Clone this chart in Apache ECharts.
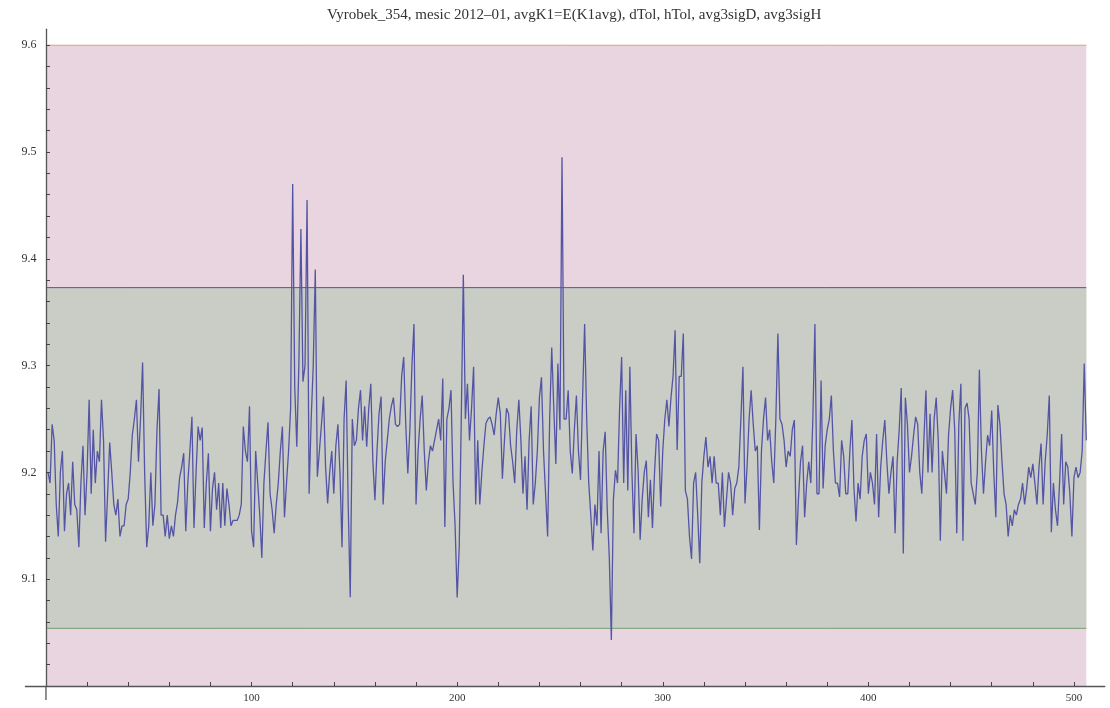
<!DOCTYPE html>
<html><head><meta charset="utf-8">
<script src="https://cdn.jsdelivr.net/npm/echarts@6/dist/echarts.min.js"></script>
<style>html,body{margin:0;padding:0;background:#fff}#c{width:1110px;height:708px}</style>
</head><body><div id="c"></div><script>
const titleText = 'Vyrobek_354, mesic 2012\u201301, avgK1=E(K1avg), dTol, hTol, avg3sigD, avg3sigH';
const values = [
9.20, 9.19, 9.245, 9.23, 9.17, 9.14, 9.20, 9.22, 9.145, 9.18,
9.19, 9.16, 9.21, 9.17, 9.165, 9.13, 9.19, 9.225, 9.16, 9.20,
9.268, 9.18, 9.24, 9.19, 9.22, 9.21, 9.268, 9.23, 9.135, 9.18,
9.228, 9.20, 9.17, 9.16, 9.175, 9.14, 9.15, 9.15, 9.17, 9.175,
9.20, 9.235, 9.25, 9.268, 9.21, 9.25, 9.303, 9.20, 9.13, 9.15,
9.20, 9.15, 9.17, 9.24, 9.278, 9.16, 9.16, 9.14, 9.16, 9.138,
9.15, 9.14, 9.16, 9.172, 9.195, 9.205, 9.218, 9.145, 9.19, 9.22,
9.252, 9.148, 9.20, 9.243, 9.23, 9.242, 9.148, 9.19, 9.218, 9.145,
9.185, 9.20, 9.165, 9.19, 9.148, 9.19, 9.15, 9.185, 9.17, 9.15,
9.155, 9.155, 9.155, 9.16, 9.17, 9.243, 9.22, 9.21, 9.262, 9.145,
9.13, 9.22, 9.19, 9.16, 9.12, 9.19, 9.22, 9.247, 9.18, 9.165,
9.143, 9.17, 9.19, 9.22, 9.243, 9.158, 9.19, 9.22, 9.26, 9.47,
9.28, 9.224, 9.30, 9.428, 9.285, 9.30, 9.455, 9.18, 9.25, 9.30,
9.39, 9.196, 9.22, 9.245, 9.271, 9.205, 9.171, 9.20, 9.22, 9.18,
9.225, 9.245, 9.20, 9.13, 9.25, 9.286, 9.17, 9.083, 9.25, 9.225,
9.23, 9.26, 9.277, 9.23, 9.262, 9.224, 9.26, 9.283, 9.21, 9.174,
9.22, 9.255, 9.271, 9.17, 9.21, 9.23, 9.25, 9.262, 9.27, 9.245,
9.243, 9.245, 9.29, 9.308, 9.245, 9.199, 9.24, 9.30, 9.339, 9.17,
9.22, 9.25, 9.272, 9.22, 9.183, 9.21, 9.225, 9.22, 9.23, 9.24,
9.25, 9.23, 9.288, 9.149, 9.25, 9.26, 9.277, 9.19, 9.15, 9.083,
9.13, 9.25, 9.385, 9.25, 9.283, 9.23, 9.26, 9.299, 9.17, 9.23,
9.17, 9.20, 9.225, 9.246, 9.25, 9.252, 9.245, 9.235, 9.255, 9.27,
9.255, 9.194, 9.23, 9.26, 9.255, 9.225, 9.21, 9.19, 9.24, 9.268,
9.23, 9.18, 9.215, 9.165, 9.23, 9.262, 9.17, 9.19, 9.22, 9.27,
9.289, 9.22, 9.18, 9.14, 9.25, 9.317, 9.26, 9.208, 9.302, 9.24,
9.495, 9.25, 9.25, 9.277, 9.22, 9.199, 9.24, 9.272, 9.22, 9.193,
9.27, 9.339, 9.25, 9.19, 9.16, 9.127, 9.17, 9.15, 9.22, 9.143,
9.22, 9.238, 9.165, 9.12, 9.043, 9.175, 9.202, 9.19, 9.26, 9.308,
9.19, 9.277, 9.183, 9.299, 9.20, 9.143, 9.236, 9.202, 9.137, 9.175,
9.20, 9.211, 9.158, 9.193, 9.148, 9.20, 9.236, 9.23, 9.168, 9.22,
9.25, 9.268, 9.243, 9.27, 9.29, 9.333, 9.221, 9.29, 9.29, 9.33,
9.183, 9.175, 9.14, 9.119, 9.19, 9.20, 9.16, 9.115, 9.19, 9.215,
9.233, 9.205, 9.215, 9.19, 9.215, 9.19, 9.19, 9.16, 9.20, 9.149,
9.175, 9.20, 9.19, 9.16, 9.185, 9.19, 9.205, 9.25, 9.299, 9.171,
9.205, 9.25, 9.277, 9.245, 9.22, 9.225, 9.146, 9.22, 9.25, 9.27,
9.23, 9.24, 9.21, 9.19, 9.25, 9.33, 9.25, 9.245, 9.23, 9.205,
9.22, 9.215, 9.24, 9.249, 9.132, 9.175, 9.21, 9.225, 9.158, 9.19,
9.21, 9.19, 9.25, 9.339, 9.18, 9.18, 9.286, 9.185, 9.225, 9.24,
9.25, 9.272, 9.22, 9.19, 9.19, 9.177, 9.23, 9.215, 9.18, 9.18,
9.22, 9.249, 9.185, 9.154, 9.19, 9.175, 9.215, 9.23, 9.236, 9.18,
9.20, 9.19, 9.17, 9.236, 9.158, 9.205, 9.23, 9.249, 9.21, 9.18,
9.20, 9.215, 9.143, 9.21, 9.24, 9.279, 9.124, 9.27, 9.245, 9.20,
9.215, 9.235, 9.252, 9.245, 9.20, 9.18, 9.23, 9.277, 9.20, 9.255,
9.20, 9.25, 9.27, 9.23, 9.136, 9.22, 9.20, 9.18, 9.235, 9.26,
9.277, 9.24, 9.143, 9.245, 9.283, 9.136, 9.26, 9.265, 9.25, 9.19,
9.18, 9.17, 9.20, 9.296, 9.22, 9.18, 9.21, 9.235, 9.225, 9.258,
9.20, 9.158, 9.263, 9.245, 9.21, 9.18, 9.17, 9.14, 9.16, 9.15,
9.165, 9.16, 9.17, 9.175, 9.19, 9.17, 9.185, 9.205, 9.195, 9.208,
9.19, 9.17, 9.205, 9.227, 9.17, 9.21, 9.235, 9.272, 9.144, 9.19,
9.165, 9.15, 9.19, 9.236, 9.17, 9.21, 9.205, 9.18, 9.14, 9.195,
9.205, 9.195, 9.20, 9.22, 9.302, 9.23
];
const xTickValues = [20,40,60,80,100,120,140,160,180,200,220,240,260,280,300,320,340,360,380,400,420,440,460,480,500];
const xLabelValues = [100,200,300,400,500];
const yTickValues = [9.02,9.04,9.06,9.08,9.1,9.12,9.14,9.16,9.18,9.2,9.22,9.24,9.26,9.28,9.3,9.32,9.34,9.36,9.38,9.4,9.42,9.44,9.46,9.48,9.5,9.52,9.54,9.56,9.58,9.6];
const yLabelValues = [9.1,9.2,9.3,9.4,9.5,9.6];
const hTol = 9.6;
const avg3sigH = 9.373;
const avg3sigD = 9.054;
const bandBottom = 9.0;
const xStart = 0;
const xEnd = 506;

const chart = echarts.init(document.getElementById('c'), null, {renderer: 'canvas'});
const serif = 'Liberation Serif, DejaVu Serif, serif';
const hline = (name, v, color) => ({
  name, type: 'line', data: [[xStart, v], [xEnd, v]], symbol: 'none', z: 3,
  lineStyle: {color, width: 1}, silent: true
});
chart.setOption({
  animation: false,
  backgroundColor: '#ffffff',
  title: {
    text: titleText, left: 322, top: 3,
    textStyle: {fontFamily: serif, fontSize: 15, fontWeight: 'normal', color: '#333'}
  },
  grid: {left: 25.4, right: 5.2, top: 29.2, bottom: 22, containLabel: false},
  xAxis: {
    type: 'value', min: -10, max: 515, z: 10,
    axisLine: {show: true, lineStyle: {color: '#555', width: 1.3}},
    axisTick: {show: true, inside: true, length: 4, customValues: xTickValues, lineStyle: {color: '#444', width: 1}},
    axisLabel: {customValues: xLabelValues, fontFamily: serif, fontSize: 11, color: '#333', margin: 7},
    splitLine: {show: false}
  },
  yAxis: {
    type: 'value', min: bandBottom, max: 9.615, z: 10,
    axisLine: {show: true, onZero: true, lineStyle: {color: '#555', width: 1.3}},
    axisTick: {show: true, inside: true, length: 4, customValues: yTickValues, lineStyle: {color: '#444', width: 1}},
    axisLabel: {customValues: yLabelValues, formatter: v => v.toFixed(1), fontFamily: serif, fontSize: 12, color: '#333', margin: -11},
    splitLine: {show: false}
  },
  series: [
    {
      name: 'bands', type: 'line', data: [], z: 1, silent: true,
      markArea: {
        silent: true,
        data: [
          [{xAxis: xStart, yAxis: bandBottom, itemStyle: {color: '#e8d5e0'}}, {xAxis: xEnd, yAxis: hTol}],
          [{xAxis: xStart, yAxis: avg3sigD, itemStyle: {color: '#c9cdc6'}}, {xAxis: xEnd, yAxis: avg3sigH}]
        ]
      }
    },
    hline('hTol', hTol, '#d2a870'),
    hline('avg3sigH', avg3sigH, '#55558e'),
    hline('avg3sigD', avg3sigD, '#74a074'),
    {
      name: 'avgK1', type: 'line', data: values.map((v, k) => [k + 1, v]),
      symbol: 'none', z: 5, lineStyle: {color: '#5454a4', width: 1.3}
    }
  ]
});
const p0 = chart.convertToPixel({gridIndex: 0}, [0, bandBottom]);
chart.setOption({graphic: [{type: 'line', z: 20, shape: {x1: p0[0], y1: p0[1], x2: p0[0], y2: p0[1] + 14}, style: {stroke: '#555', lineWidth: 1.3}}]});
</script></body></html>
